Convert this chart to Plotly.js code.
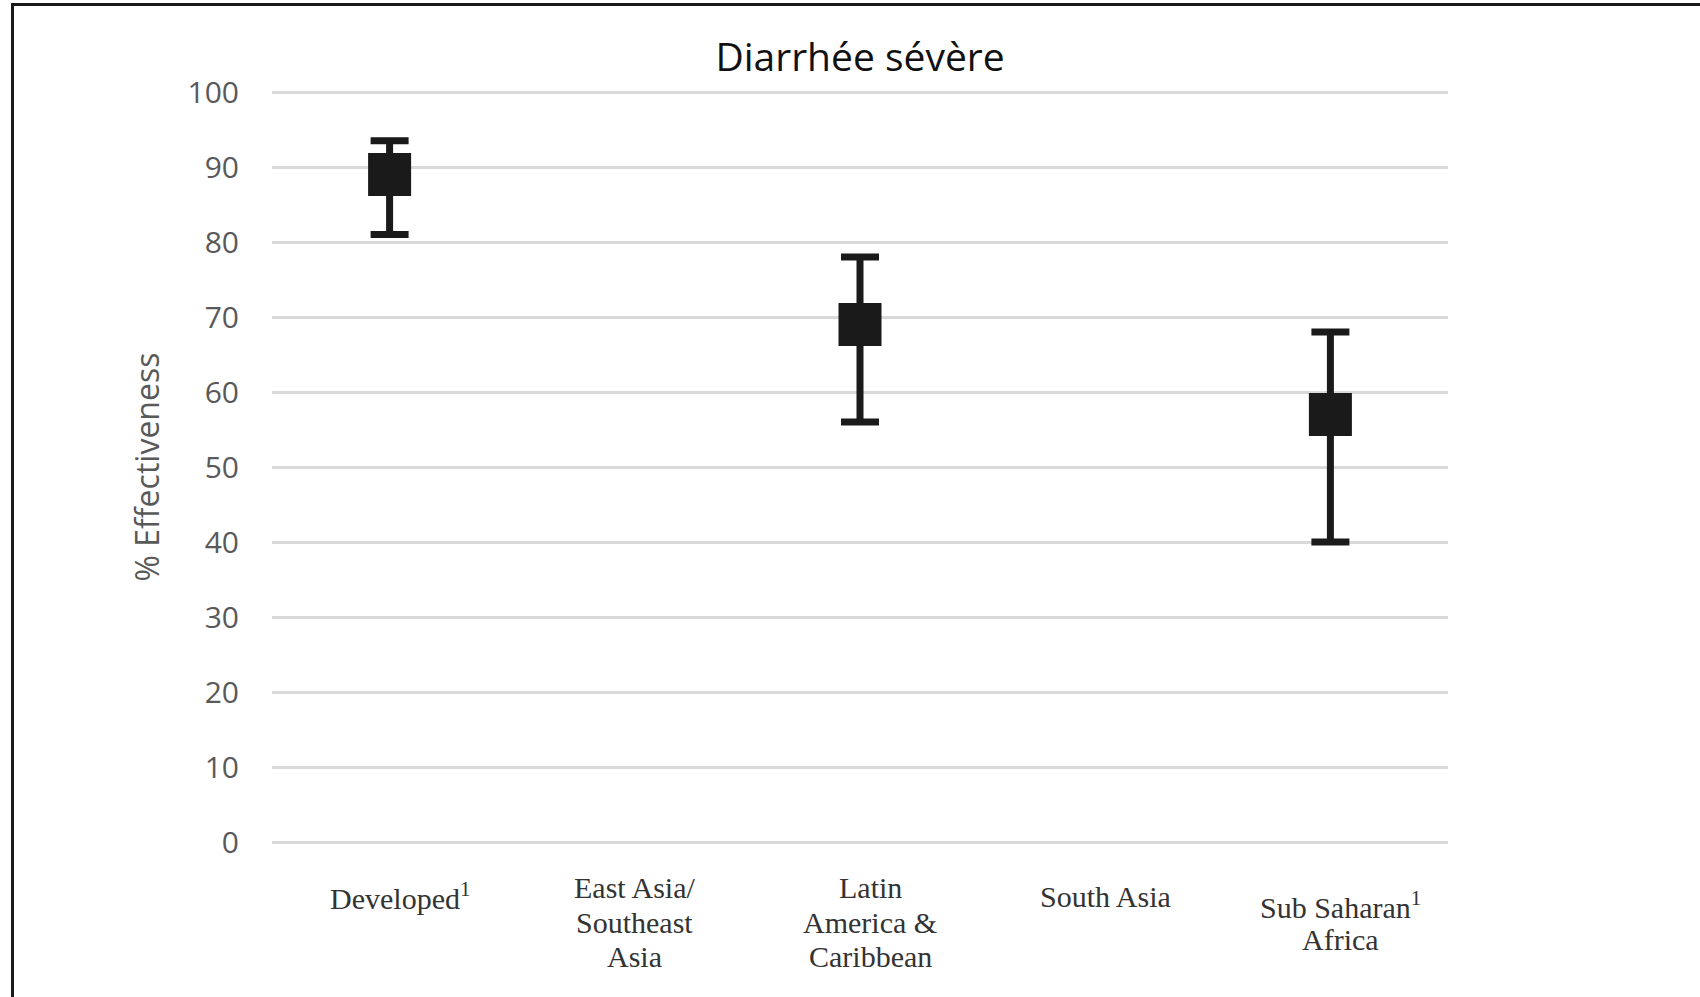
<!DOCTYPE html>
<html>
<head>
<meta charset="utf-8">
<script src="https://cdn.plot.ly/plotly-3.0.1.min.js"></script>
<style>
  html, body { margin: 0; padding: 0; background: #fff; }
  #wrap { position: relative; width: 1700px; height: 997px; overflow: hidden; }
  #frame { position: absolute; left: 11px; top: 3px; width: 1700px; height: 1000px;
           border-top: 3px solid #1a1a1a; border-left: 3px solid #1a1a1a; pointer-events: none; z-index: 5; }
  #chart { position: absolute; left: 0; top: 0; width: 1700px; height: 997px; }
</style>
</head>
<body>
<div id="wrap">
  <div id="chart"></div>
  <div id="frame"></div>
</div>
<script>
// Data
const categoryKeys = ['Developed', 'East Asia', 'Latin America', 'South Asia', 'Sub Saharan'];
const categoryLabels = [
  ['Developed<sup>1</sup>'],
  ['East Asia/', 'Southeast', 'Asia'],
  ['Latin', 'America &amp;', 'Caribbean'],
  ['South Asia'],
  ['Sub Saharan<sup>1</sup>', 'Africa']
];
const pointEstimate = [89, null, 69, null, 57];
const lowerCI = [81, null, 56, null, 40];
const upperCI = [93.5, null, 78, null, 68];
const yTicks = [0, 10, 20, 30, 40, 50, 60, 70, 80, 90, 100];

const errPlus = pointEstimate.map((v, i) => v === null ? null : upperCI[i] - v);
const errMinus = pointEstimate.map((v, i) => v === null ? null : v - lowerCI[i]);

const ink = '#1a1a1a';

const trace = {
  type: 'scatter',
  mode: 'markers',
  x: categoryKeys,
  y: pointEstimate,
  marker: { symbol: 'square', size: 43, color: ink, line: { width: 0 } },
  error_y: {
    type: 'data', symmetric: false,
    array: errPlus, arrayminus: errMinus,
    color: ink, thickness: 7, width: 19
  },
  hoverinfo: 'skip',
  showlegend: false
};

// Plot area geometry (pixels) used to place the category labels below the axis
const H = 997, mTop = 89, mBot = 152;
const plotH = H - mTop - mBot;
const lineGap = 34.7;
const toPaperY = (py) => (H - mBot - py) / plotH;

const labelAnnotations = [];
categoryLabels.forEach((lines, i) => {
  const n = lines.length;
  const centre = n > 1 ? 922 : 896;
  lines.forEach((t, j) => {
    labelAnnotations.push({
      xref: 'x', yref: 'paper',
      x: categoryKeys[i],
      y: toPaperY(centre + (j - (n - 1) / 2) * lineGap),
      xshift: 10,
      yanchor: 'middle', xanchor: 'center',
      text: t, showarrow: false, borderpad: 0,
      font: { family: 'Liberation Serif, Times New Roman, serif', size: 30, color: '#333333' }
    });
  });
});

const layout = {
  width: 1700, height: H,
  paper_bgcolor: '#ffffff', plot_bgcolor: '#ffffff',
  margin: { l: 272, r: 252, t: mTop, b: mBot, pad: 0 },
  title: {
    text: 'Diarrhée sévère',
    font: { family: 'Open Sans, sans-serif', size: 39, color: '#111111' },
    xref: 'paper', x: 0.5, xanchor: 'center',
    yref: 'container', y: 1 - 57 / H, yanchor: 'middle'
  },
  xaxis: {
    type: 'category',
    categoryorder: 'array', categoryarray: categoryKeys,
    range: [-0.5, 4.5],
    showgrid: false, zeroline: false, showline: false,
    showticklabels: false, ticks: ''
  },
  yaxis: {
    range: [-0.4, 100.4],
    tickvals: yTicks,
    ticktext: yTicks.map(String),
    showgrid: true, gridcolor: '#d9d9d9', gridwidth: 3,
    zeroline: false, showline: false,
    ticks: 'outside', ticklen: 26, tickcolor: 'rgba(0,0,0,0)',
    tickfont: { family: 'Open Sans, sans-serif', size: 30, color: '#595959' },
    title: {
      text: '% Effectiveness',
      font: { family: 'Open Sans, sans-serif', size: 32, color: '#595959' },
      standoff: 18
    }
  },
  annotations: labelAnnotations
};

Plotly.newPlot('chart', [trace], layout, { displayModeBar: false, staticPlot: true });
</script>
</body>
</html>
